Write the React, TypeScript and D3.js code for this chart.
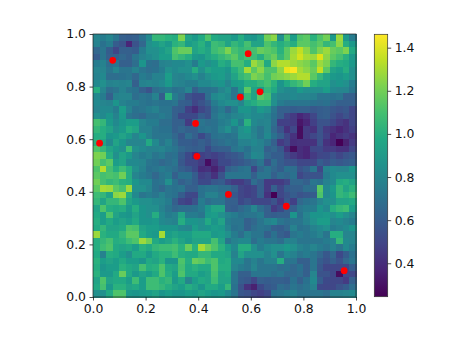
import React, { useEffect, useRef } from 'react';
import * as d3 from 'd3';

// cell values (top row first)
const gridNW = [
  [.80,.75,.80,.72,.62,.60,.62,.70,.82,1.05,1.05,1.02,1.00,1.22,.95,.90,.98,1.12,.98,.95],
  [.78,.70,.75,.60,.55,.38,.55,.65,.85,.90,.95,.90,1.02,1.05,.92,.95,1.02,.92,1.08,1.05],
  [.65,.72,.60,.50,.62,.62,.60,.75,.85,.85,.90,.95,1.12,1.18,1.18,.95,1.0,.95,1.08,1.12],
  [.60,.72,.62,.62,.65,.62,.72,.78,.82,.85,.92,.92,1.10,1.05,1.0,.9,.88,.95,1.0,1.05],
  [.75,.78,.68,.72,.62,.62,.68,.88,.70,.68,.78,.80,.82,.82,.85,.75,.90,.85,.90,1.0],
  [.80,.80,.72,.80,.72,.72,.78,.72,.68,.70,.75,.85,.82,.85,.85,1.0,.85,.95,.92,.92],
  [.78,.82,.68,.68,.70,.72,.65,.75,.72,.78,.78,.92,.80,.78,.82,.85,.78,.85,.90,.92],
  [.82,.85,.78,.80,.78,.80,.62,.78,.80,.78,.82,.90,.80,.78,.75,.75,.82,.82,.85,.88],
  [1.0,.80,.68,.72,.78,.72,.70,.62,.55,.68,.72,.75,.70,.72,.80,.62,.70,.70,.72,.80],
  [.82,.75,.62,.78,.80,.80,.68,.72,.70,.78,.60,1.02,.75,.68,.55,.52,.52,.68,.82,.85],
  [.82,.80,.78,.88,.78,.75,.75,.72,.70,.72,.70,.70,.72,.62,.60,.50,.55,.62,.75,.82],
  [.80,.82,.82,.75,.92,.78,.70,.72,.75,.78,.72,.72,.62,.60,.48,.40,.50,.55,.70,.75],
  [.85,.82,.88,.78,.90,.72,.68,.65,.72,.72,.75,.72,.62,.52,.52,.52,.60,.55,.72,.78],
  [1.1,1.05,.90,.82,.88,.92,.92,.80,.75,.75,.68,.68,.62,.62,.45,.65,.72,.68,.70,.75],
  [1.05,1.0,.95,.85,.90,1.0,.95,.78,.78,.72,.70,.70,.62,.65,.62,.62,.70,.72,.70,.78],
  [1.0,1.0,.88,.90,.95,.90,.80,.88,.78,.72,.72,.72,.65,.58,.68,.62,.52,.60,.70,.72],
  [1.02,.95,.82,.95,.88,.80,.80,.80,.98,.82,.72,.78,.68,.60,.60,.58,.62,.58,.65,.68],
  [1.12,1.05,.95,.90,.85,1.08,.85,.82,.78,.78,.80,.75,.72,.65,.62,.60,.62,.52,.60,.62],
  [1.22,1.2,1.0,.85,.95,.90,.80,.75,.78,.72,.75,.68,.70,.60,.52,.42,.48,.50,.48,.52],
  [1.2,1.1,1.15,.92,.95,.82,.82,.80,.72,.70,.65,.68,.72,.58,.50,.50,.45,.30,.42,.52],
];
const gridNE = [
  [.95,.9,1.0,.9,.88,.95,1.2,1.25,.85,1.12,.92,1.12,1.15,1.02,1.12,1.2,.9,1.28,.9,.75],
  [.95,1.05,1.0,1.1,.95,.95,1.12,1.05,1.0,1.05,1.0,1.15,1.15,1.1,1.15,1.05,1.1,1.25,1.0,.9],
  [1.22,1.1,1.05,1.08,1.1,1.18,1.15,1.12,1.02,1.15,1.28,1.35,1.25,1.12,1.22,1.28,1.18,1.15,1.22,.98],
  [1.1,1.15,1.05,1.1,1.08,1.0,1.12,1.18,1.05,1.15,1.3,1.38,1.3,1.28,1.4,1.25,1.15,1.1,1.02,.9],
  [.95,1.1,1.1,1.0,1.28,1.2,.98,1.25,1.32,1.32,1.28,1.25,1.22,1.15,1.28,1.22,1.05,1.0,.98,.9],
  [.88,1.0,1.08,1.3,1.15,1.25,1.12,1.12,1.25,1.42,1.45,1.3,1.25,1.18,1.35,1.15,.95,.92,1.0,.85],
  [.85,.95,1.05,1.1,1.22,1.18,1.1,1.2,1.22,1.25,1.28,1.32,1.32,1.15,1.05,.95,.9,.88,.92,.85],
  [.8,.9,.92,1.0,1.0,1.05,1.1,1.02,.88,.98,1.05,1.1,1.2,1.0,.95,.95,.85,.88,.85,.75],
  [.85,.72,.9,1.15,.95,.9,1.05,.98,.85,.82,.82,.9,.85,.85,.85,.92,.82,.8,.8,.72],
  [.82,.72,.72,1.05,.95,1.15,1.1,.85,.8,.8,.82,.8,.8,.78,.72,.72,.7,.72,.62,.62],
  [.85,.85,.8,.95,1.0,1.05,1.05,.85,.75,.72,.72,.72,.72,.7,.68,.7,.65,.62,.62,.62],
  [.65,.75,.88,.88,.82,.9,.85,.72,.62,.62,.6,.62,.62,.58,.6,.62,.58,.55,.58,.5],
  [.75,.8,.82,.85,.82,.82,.78,.7,.62,.5,.45,.38,.42,.5,.6,.62,.55,.5,.55,.5],
  [.78,.88,.75,1.02,.82,.78,.8,.68,.48,.48,.45,.32,.38,.48,.55,.55,.52,.45,.42,.5],
  [.85,.75,.85,.9,.78,.72,.8,.65,.55,.42,.5,.28,.45,.42,.55,.45,.42,.38,.42,.48],
  [.7,.72,.85,.85,.8,.72,.82,.7,.62,.5,.42,.28,.45,.5,.55,.48,.38,.42,.45,.42],
  [.72,.7,.78,.78,.82,.78,.72,.62,.45,.5,.4,.42,.42,.42,.55,.42,.38,.24,.35,.45],
  [.62,.72,.75,.7,.78,.78,.62,.65,.58,.42,.28,.4,.38,.5,.52,.45,.45,.42,.42,.5],
  [.55,.58,.62,.72,.82,.8,.65,.6,.6,.5,.45,.4,.38,.45,.5,.52,.55,.5,.55,.58],
  [.52,.55,.58,.62,.65,.72,.55,.68,.6,.55,.55,.5,.5,.5,.6,.55,.6,.58,.6,.62],
];
const gridSW = [
  [1.12,1.32,1.1,1.0,1.08,1.0,.85,.78,.7,.72,.75,.72,.68,.62,.58,.52,.4,.42,.35,.45],
  [1.15,1.1,1.12,1.1,1.2,1.0,.8,.75,.72,.65,.72,.75,.62,.7,.7,.6,.48,.5,.42,.55],
  [1.2,1.1,1.05,1.08,1.02,1.0,.88,.82,.82,.7,.72,.85,.7,.62,.65,.6,.52,.52,.58,.6],
  [1.15,1.3,1.28,1.15,1.1,1.28,.85,.85,.8,.7,.65,.72,.7,.72,.62,.62,.7,.72,.72,.68],
  [1.08,1.05,.95,1.25,1.28,1.0,.82,.72,.75,.72,.78,.72,.7,.6,.52,.5,.7,.78,.78,.72],
  [1.05,.95,1.05,1.05,1.12,.95,.9,.85,.85,.82,.8,.75,.62,.5,.48,.55,.75,.68,.72,.72],
  [.95,1.12,1.0,.98,1.0,.9,1.0,.88,.85,.85,.78,.72,.65,.68,.68,.7,.75,.88,.95,.95],
  [.98,.92,1.12,.95,.9,.88,.95,.88,.85,1.0,.82,.75,.78,.95,.75,.75,.72,.9,.92,.85],
  [1.0,.92,.98,.92,.95,.92,.98,.88,.88,.9,.82,.8,.78,1.0,.88,.88,.85,.98,.88,.95],
  [.98,1.05,.95,.95,.98,1.12,1.1,.95,.92,.92,.88,.88,.88,.82,.8,.92,.85,.88,.92,.9],
  [1.28,1.02,.98,.98,1.05,1.15,1.15,.98,.92,.9,1.3,.92,.95,.92,.92,.98,.98,.98,.9,.92],
  [1.0,1.05,1.1,1.0,1.02,1.08,1.12,1.28,1.2,.98,.92,.95,1.02,.95,.9,.95,.95,.95,1.1,.95],
  [1.0,1.08,1.12,.98,.95,.98,.92,1.02,.98,1.05,1.08,1.08,1.1,1.02,1.18,1.02,1.3,1.2,1.12,1.02],
  [.98,.78,1.0,.98,.92,.85,.98,.98,.9,.98,1.02,1.02,1.08,1.0,.98,.98,1.05,1.05,.98,.98],
  [1.02,.92,.95,.92,.98,.92,.92,.88,.98,.95,1.02,.88,.88,1.12,1.0,1.18,1.15,1.08,1.12,.98],
  [1.0,.88,.92,.92,1.02,.98,.95,1.1,1.0,1.02,1.12,.98,.95,1.1,.98,1.02,.98,.98,1.12,1.0],
  [1.02,.9,.9,.98,1.18,.98,.9,.95,.92,.98,1.12,1.0,.92,1.12,.98,.98,.92,.95,1.1,.95],
  [.95,1.12,.95,.98,.98,.92,1.08,.92,1.08,1.08,1.02,1.05,.9,.98,.8,.92,.98,.95,1.08,.95],
  [.98,1.1,.9,1.02,1.02,.95,.98,.92,1.08,1.08,1.05,1.0,.95,.92,1.0,.95,.88,.98,.98,.92],
  [.85,.85,.98,1.12,1.12,.9,.88,.9,.92,.95,.88,.92,.88,.88,.92,.9,.95,.92,.88,.9],
];
const gridSE = [
  [.62,.65,.7,.72,.5,.65,.72,.65,.6,.7,.68,.55,.6,.72,.5,.78,.82,.8,.8,.88],
  [.72,.72,.72,.72,.62,.72,.72,.62,.68,.65,.7,.5,.55,.55,.55,.75,.82,.85,.85,.85],
  [.5,.45,.45,.52,.68,.62,.45,.45,.45,.5,.65,.65,.62,.72,.7,.78,.82,.98,1.0,.95],
  [.68,.62,.5,.48,.5,.62,.45,.62,.5,.6,.62,.62,.68,.68,1.15,.82,.9,1.05,.95,1.02],
  [.6,.58,.5,.48,.5,.62,.42,.24,.5,.55,.6,.55,.58,.6,1.12,.82,.88,1.05,1.02,1.08],
  [.62,.62,.52,.55,.5,.5,.5,.55,.45,.58,.48,.65,.7,.72,.8,.85,.85,.95,.95,.98],
  [.62,.6,.65,.7,.8,.68,.62,.45,.52,.62,.62,.72,.75,.75,.88,.82,1.0,1.05,1.08,.92],
  [.78,.75,.7,.72,.72,.75,.62,.6,.62,.62,.88,.7,.8,.88,.88,.9,.85,.92,.85,.8],
  [.75,.72,.72,.62,.65,.72,.78,.82,.72,.68,.72,.72,.78,.85,.92,.92,.8,.82,.78,.75],
  [.78,.7,.72,.62,.68,.72,.7,.62,.6,.65,.78,.7,.72,.78,.82,.85,.75,.78,.82,.88],
  [.85,.75,.68,.78,.72,.72,.62,.7,.62,.58,.72,.75,.72,.75,.8,.72,1.0,1.0,.8,.8],
  [.72,.78,.82,.82,.68,.75,.72,.72,.68,.78,.78,.72,.72,.72,.72,.75,.78,1.05,.82,.8],
  [.92,.82,1.0,1.0,.85,.75,.82,.85,.85,.9,.85,.78,.75,.8,.75,.72,.78,.72,.82,.75],
  [.95,.78,.95,.85,.85,.85,.78,.85,.72,.82,.78,.72,.75,.72,.65,.58,.65,.52,.6,.7],
  [1.0,.82,.82,.72,.78,.72,.78,.78,1.0,.72,.72,.62,.62,.72,.6,.55,.62,.55,.65,.72],
  [1.0,.8,.75,.72,.8,.72,.72,.72,.68,.7,.65,.7,.62,.72,.58,.5,.5,.5,.5,.6],
  [.98,.72,.62,.62,.72,.72,.72,.68,.72,.65,.65,.68,.62,.8,.55,.55,.5,.28,.5,.5],
  [.95,.72,.6,.58,.5,.62,.6,.62,.62,.6,.7,.62,.7,.82,.6,.52,.5,.5,.45,.62],
  [1.05,.7,.55,.42,.35,.52,.58,.6,.68,.65,.72,.68,.72,.78,.52,.5,.5,.55,.6,.68],
  [.82,.72,.58,.55,.5,.48,.52,.7,.72,.75,.78,.72,.72,.72,.72,.68,.78,.78,.8,.82],
];

const pointsX = [0.025, 0.075, 0.39, 0.395, 0.515, 0.56, 0.59, 0.635, 0.735, 0.955];
const pointsY = [0.585, 0.9, 0.66, 0.535, 0.39, 0.76, 0.925, 0.78, 0.345, 0.1];

const axisTicks = [0, 0.2, 0.4, 0.6, 0.8, 1];
const colorTicks = [0.4, 0.6, 0.8, 1.0, 1.2, 1.4];
const colorDomain = [0.245, 1.462];

const App = () => {
  const ref = useRef<SVGSVGElement | null>(null);

  useEffect(() => {
    const svg = d3.select(ref.current);
    svg.selectAll('*').remove();

    const rows = [
      ...gridNW.map((r, i) => [...r, ...gridNE[i]]),
      ...gridSW.map((r, i) => [...r, ...gridSE[i]]),
    ];

    const x = d3.scaleLinear().domain([0, 1]).range([93, 356]);
    const y = d3.scaleLinear().domain([0, 1]).range([297, 34]);
    const col = d3.scaleBand<number>().domain(d3.range(40)).range([93, 356]);
    const row = d3.scaleBand<number>().domain(d3.range(40)).range([34, 297]);
    const color = d3.scaleSequential(d3.interpolateViridis).domain(colorDomain);

    const defs = svg.append('defs');

    // the reference is slightly soft, it was resampled
    defs.append('filter')
      .attr('id', 'soft')
      .attr('filterUnits', 'userSpaceOnUse')
      .attr('x', 0).attr('y', 0).attr('width', 471).attr('height', 341)
      .append('feGaussianBlur')
      .attr('stdDeviation', 0.45);

    const plot = svg.append('g').attr('filter', 'url(#soft)');

    // heatmap cells
    plot.append('g')
      .attr('shape-rendering', 'crispEdges')
      .selectAll('g')
      .data(rows)
      .enter().append('g')
      .each(function (values, r) {
        d3.select(this).selectAll('rect')
          .data(values)
          .enter().append('rect')
          .attr('x', (_, c) => col(c)!)
          .attr('y', row(r)!)
          .attr('width', col.bandwidth() + 0.5)
          .attr('height', row.bandwidth() + 0.5)
          .attr('fill', d => color(d));
      });

    // red markers
    plot.append('g')
      .selectAll('circle')
      .data(pointsX)
      .enter().append('circle')
      .attr('cx', d => x(d))
      .attr('cy', (_, i) => y(pointsY[i]))
      .attr('r', 3.4)
      .attr('fill', '#ff0000');

    const styleAxis = (g: any) => {
      g.selectAll('text')
        .attr('fill', '#111')
        .style('font-size', '12.4px')
        .style('font-family', '"DejaVu Sans", sans-serif');
      g.selectAll('.tick line').attr('stroke', '#000').attr('stroke-width', 0.7);
      g.select('.domain').remove();
    };

    const fmt = d3.format('.1f');
    svg.append('g')
      .attr('transform', 'translate(0,297)')
      .call(d3.axisBottom(x).tickValues(axisTicks).tickFormat(d => fmt(d as number)).tickSize(3.5).tickPadding(3.5))
      .call(styleAxis);
    svg.append('g')
      .attr('transform', 'translate(93,0)')
      .call(d3.axisLeft(y).tickValues(axisTicks).tickFormat(d => fmt(d as number)).tickSize(3.5).tickPadding(3.5))
      .call(styleAxis);

    // plot frame
    svg.append('rect')
      .attr('x', 93).attr('y', 34).attr('width', 263).attr('height', 263)
      .attr('fill', 'none').attr('stroke', '#222').attr('stroke-width', 0.7);

    // colorbar
    const barY = d3.scaleLinear().domain(colorDomain).range([296.7, 34.3]);
    const grad = defs.append('linearGradient')
      .attr('id', 'bar').attr('x1', '0%').attr('x2', '0%').attr('y1', '100%').attr('y2', '0%');
    grad.selectAll('stop')
      .data(d3.range(0, 1.001, 0.1))
      .enter().append('stop')
      .attr('offset', d => `${d * 100}%`)
      .attr('stop-color', d => d3.interpolateViridis(d));
    svg.append('rect')
      .attr('x', 374.3).attr('y', 34.3).attr('width', 13.4).attr('height', 262.4)
      .attr('fill', 'url(#bar)')
      .attr('stroke', '#333').attr('stroke-width', 0.7);
    svg.append('g')
      .attr('transform', 'translate(387.7,0)')
      .call(d3.axisRight(barY).tickValues(colorTicks).tickFormat(d => fmt(d as number)).tickSize(3.5).tickPadding(3.5))
      .call(styleAxis);
  }, []);

  return (
    <svg
      ref={ref}
      width={471}
      height={341}
      style={{ position: 'absolute', left: 0, top: 0, background: '#fff' }}
    />
  );
};

export default App;
